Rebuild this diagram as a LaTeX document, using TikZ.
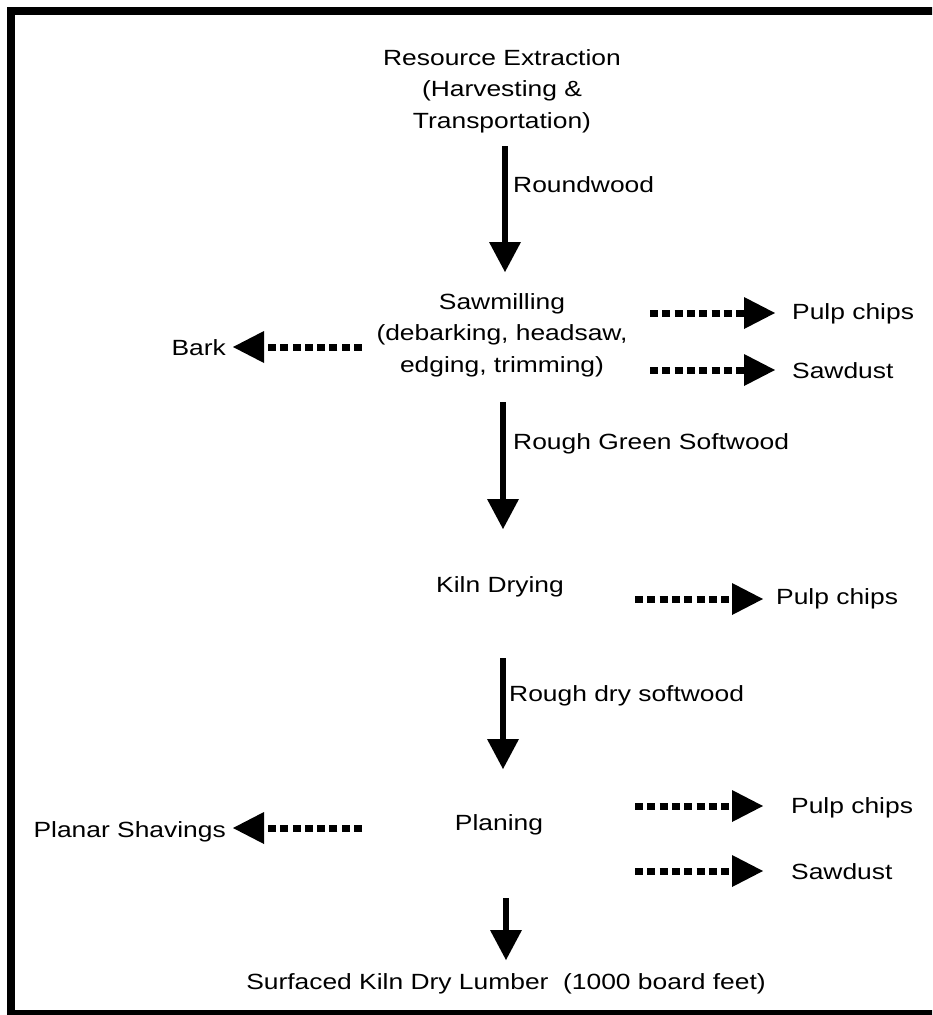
\documentclass[tikz,border=0pt]{standalone}
\usepackage{fontspec}
\setmainfont[FakeStretch=1.2]{Liberation Sans}
\usetikzlibrary{arrows.meta}
\begin{document}
\begin{tikzpicture}[x=1pt,y=-1pt,
  lbl/.style={font=\fontsize{22}{31.5}\selectfont, inner sep=0pt},
  blk/.style={lbl, align=center},
  flow/.style={line width=6pt, -{Triangle[length=30pt,width=32pt,line width=0pt]}},
  side/.style={line width=7pt, dash pattern=on 8pt off 4.3pt, -{Triangle[length=31pt,width=32pt,line width=0pt]}}
]
\useasboundingbox (0,0) rectangle (932,1015);
\begin{scope}
\clip (0,0) rectangle (932,1015);
\draw[line width=8pt] (11,11) rectangle (945,1014);
\end{scope}

% main stages
\node[blk] (res) at (502,91) {Resource Extraction\\(Harvesting \&\\Transportation)};
\node[blk] (saw) at (502,335) {Sawmilling\\(debarking, headsaw,\\edging, trimming)};
\node[lbl, anchor=base] (kiln) at (500,592) {Kiln Drying};
\node[lbl, anchor=base] (plan) at (499,830) {Planing};
\node[lbl, anchor=base] (lum) at (506,989) {Surfaced Kiln Dry Lumber\ \ (1000 board feet)};

% flow labels
\node[lbl, anchor=base west] (l1) at (513,192) {Roundwood};
\node[lbl, anchor=base west] (l2) at (513,449) {Rough Green Softwood};
\node[lbl, anchor=base west] (l3) at (509,701) {Rough dry softwood};

% by-products
\node[lbl, anchor=base east] (bark) at (226,355) {Bark};
\node[lbl, anchor=base east] (shav) at (226,837) {Planar Shavings};
\node[lbl, anchor=base west] (pc1) at (792,319) {Pulp chips};
\node[lbl, anchor=base west] (sd1) at (792,378) {Sawdust};
\node[lbl, anchor=base west] (pc2) at (776,604) {Pulp chips};
\node[lbl, anchor=base west] (pc3) at (791,813) {Pulp chips};
\node[lbl, anchor=base west] (sd3) at (791,879) {Sawdust};

% main flow arrow ends
\coordinate (a1s) at (505,146); \coordinate (a1e) at (505,272);
\coordinate (a2s) at (503,402); \coordinate (a2e) at (503,529);
\coordinate (a3s) at (503,658); \coordinate (a3e) at (503,769);
\coordinate (a4s) at (506,898); \coordinate (a4e) at (506,960);
\draw[flow] (a1s) -- (a1e);
\draw[flow] (a2s) -- (a2e);
\draw[flow] (a3s) -- (a3e);
\draw[flow] (a4s) -- (a4e);

% side arrow ends
\coordinate (bks) at (362,347); \coordinate (bke) at (233,347);
\coordinate (shs) at (362,828); \coordinate (she) at (233,828);
\coordinate (p1s) at (650,313); \coordinate (p1e) at (775,313);
\coordinate (s1s) at (650,370); \coordinate (s1e) at (775,370);
\coordinate (p2s) at (635,599); \coordinate (p2e) at (763,599);
\coordinate (p3s) at (635,806); \coordinate (p3e) at (763,806);
\coordinate (s3s) at (635,871); \coordinate (s3e) at (763,871);
\draw[side] (bks) -- (bke);
\draw[side] (shs) -- (she);
\draw[side] (p1s) -- (p1e);
\draw[side] (s1s) -- (s1e);
\draw[side] (p2s) -- (p2e);
\draw[side] (p3s) -- (p3e);
\draw[side] (s3s) -- (s3e);
\end{tikzpicture}
\end{document}
